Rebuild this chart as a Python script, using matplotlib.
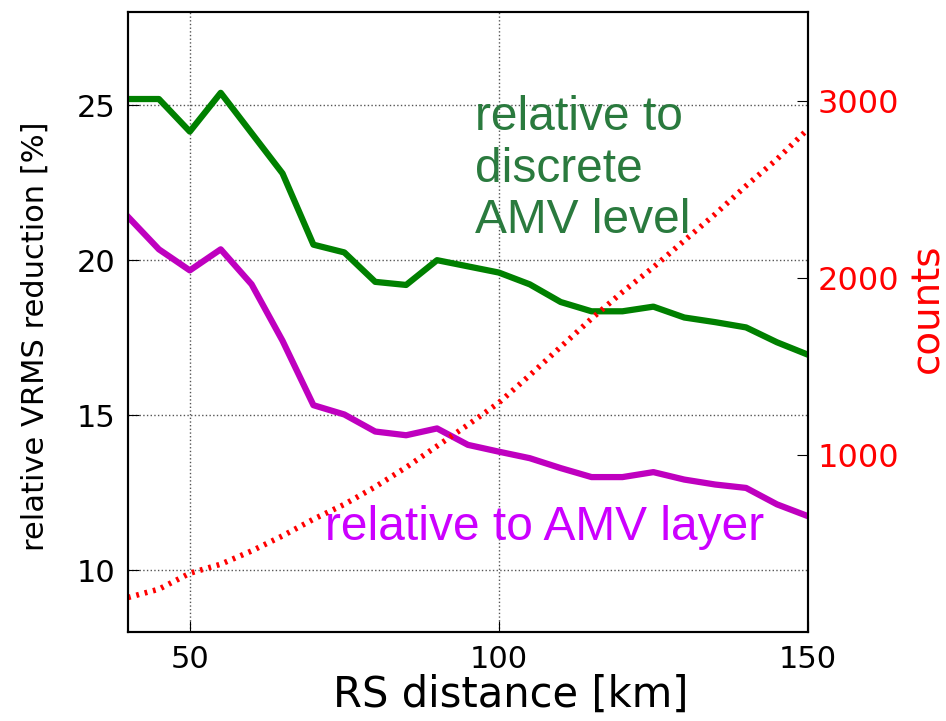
import numpy as np
import matplotlib
matplotlib.use("Agg")
import matplotlib.pyplot as plt

dist = [40, 45, 50, 55, 60, 65, 70, 75, 80, 85, 90, 95, 100, 105, 110,
        115, 120, 125, 130, 135, 140, 145, 150]
# relative to discrete AMV level
red_level = [25.2, 25.2, 24.15, 25.4, 24.1, 22.8, 20.5, 20.25, 19.3, 19.2, 20.0, 19.8,
             19.6, 19.22, 18.65, 18.35, 18.35, 18.5, 18.15, 18.0, 17.83, 17.35, 16.95]
# relative to AMV layer
red_layer = [21.4, 20.35, 19.67, 20.35, 19.22, 17.4, 15.32, 15.02, 14.47, 14.35, 14.57, 14.04,
             13.82, 13.61, 13.29, 13.0, 13.0, 13.16, 12.92, 12.76, 12.65, 12.12, 11.74]
counts = [195, 242, 332, 383, 458, 543, 637, 721, 820, 930, 1050, 1170,
          1295, 1450, 1610, 1770, 1920, 2060, 2210, 2360, 2520, 2670, 2840]

fig = plt.figure(figsize=(9.46, 7.21), dpi=100)
ax = fig.add_axes([0.1353, 0.1234, 0.7187, 0.8596])
ax2 = ax.twinx()

ax.plot(dist, red_level, color='green', lw=4.5, zorder=3)
ax.plot(dist, red_layer, color='#bf00bf', lw=4.5, zorder=3)
ln, = ax2.plot(dist, counts, color='red', lw=4, dash_capstyle='butt')
ln.set_dashes((0.5, 1.05))

ax.set_xlim(40, 150)
ax.set_ylim(8, 28)
ax2.set_ylim(0, 3500)
ax.set_xticks([50, 100, 150])
ax.set_yticks([10, 15, 20, 25])
ax2.set_yticks([1000, 2000, 3000])

ax.grid(True, color='#555555', ls=':', lw=1)
ax.tick_params(direction='in', length=8, labelsize=22, pad=9)
ax2.tick_params(direction='in', length=8, labelsize=23, labelcolor='red', pad=7)

ax.set_xlabel('RS distance [km]', fontsize=30)
ax.xaxis.set_label_coords(0.563, -0.067)
ax.set_ylabel('relative VRMS reduction [%]', fontsize=22)
ax.yaxis.set_label_coords(-0.115, 0.477)
ax2.set_ylabel('counts', fontsize=28, color='red')
ax2.yaxis.set_label_coords(1.148, 0.5226)

ax.text(0.51, 0.866, 'relative to\ndiscrete\nAMV level', transform=ax.transAxes,
        color='#2a7a3e', fontsize=34.5, family='Liberation Sans', va='top',
        linespacing=1.18, zorder=4)
ax.text(0.29, 0.148, 'relative to AMV layer', transform=ax.transAxes,
        color='#cc00ff', fontsize=34.5, family='Liberation Sans', va='baseline', zorder=4)

for a in (ax, ax2):
    for s in a.spines.values():
        s.set_linewidth(1.5)

fig.savefig('out.png', dpi=100)
